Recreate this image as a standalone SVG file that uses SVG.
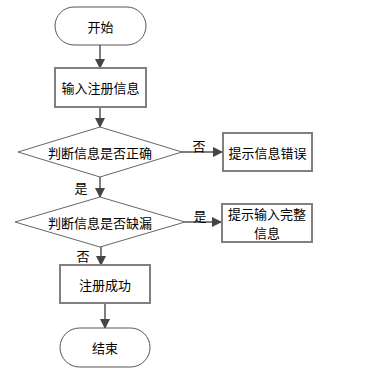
<svg xmlns="http://www.w3.org/2000/svg" width="368" height="375" viewBox="0 0 368 375">
<style>
text{font-family:"Noto Sans CJK SC","Liberation Sans",sans-serif;font-size:13px;fill:#000;}
.c{text-anchor:middle;dominant-baseline:central;}
.term{fill:#fff;stroke:#555;stroke-width:1;}
.box{fill:#fff;stroke:#808080;stroke-width:2;}
.dia{fill:#fff;stroke:#666;stroke-width:1;}
.ln{stroke:#555;stroke-width:1.5;fill:none;marker-end:url(#ah);}
</style>
<defs>
<marker id="ah" markerWidth="10" markerHeight="10" refX="9" refY="5" orient="auto" markerUnits="userSpaceOnUse">
<path d="M0,0 L10,5 L0,10 Z" fill="#444"/>
</marker>
</defs>
<rect width="368" height="375" fill="#fff"/>
<g id="connectors">
<line class="ln" x1="100" y1="45" x2="100" y2="68"/>
<line class="ln" x1="100" y1="107" x2="100" y2="127"/>
<line class="ln" x1="182" y1="152" x2="222" y2="152"/>
<line class="ln" x1="100" y1="177" x2="100" y2="197"/>
<line class="ln" x1="185" y1="222" x2="221" y2="222"/>
<line class="ln" x1="101" y1="247" x2="101" y2="265"/>
<line class="ln" x1="105" y1="303" x2="105" y2="328"/>
<text x="199" y="145" class="c">否</text>
<text x="81" y="187" class="c">是</text>
<text x="200" y="215" class="c">是</text>
<text x="83" y="255" class="c">否</text>
</g>
<g id="start">
<rect class="term" x="55" y="7" width="91" height="38" rx="19"/>
<text x="100.5" y="26" class="c">开始</text>
</g>
<g id="input">
<rect class="box" x="55" y="68" width="91" height="39"/>
<text x="100.5" y="87.5" class="c">输入注册信息</text>
</g>
<g id="check1">
<polygon class="dia" points="100,127 182,152 100,177 18,152"/>
<text x="100" y="152" class="c">判断信息是否正确</text>
</g>
<g id="err">
<rect class="box" x="223" y="133" width="89" height="38"/>
<text x="267.5" y="152" class="c">提示信息错误</text>
</g>
<g id="check2">
<polygon class="dia" points="100,197 185,222 100,247 15,222"/>
<text x="100" y="222" class="c">判断信息是否缺漏</text>
</g>
<g id="hint">
<rect class="box" x="222" y="204" width="90" height="38"/>
<text x="267" y="213.5" class="c">提示输入完整</text>
<text x="267" y="232.5" class="c">信息</text>
</g>
<g id="success">
<rect class="box" x="60" y="265" width="90" height="38"/>
<text x="105" y="284" class="c">注册成功</text>
</g>
<g id="end">
<rect class="term" x="60" y="328" width="90" height="39" rx="19.5"/>
<text x="105" y="347.5" class="c">结束</text>
</g>
</svg>
